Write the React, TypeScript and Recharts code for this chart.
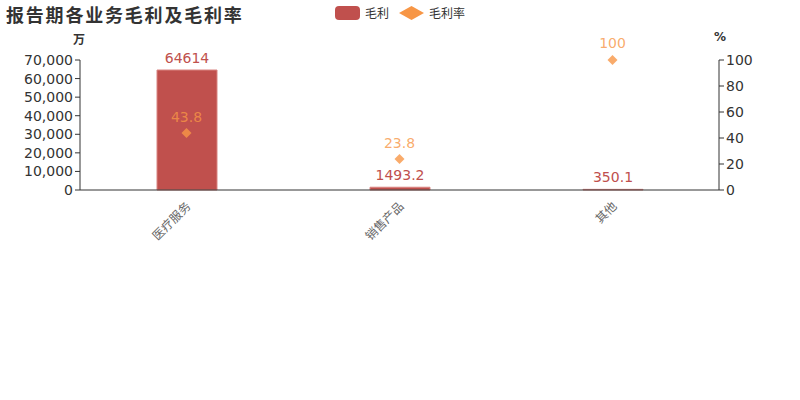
import React from 'react';
import { ComposedChart, Bar, Scatter, XAxis, YAxis, LabelList } from 'recharts';

const categories = ['医疗服务', '销售产品', '其他'];
const grossProfit = [64614, 1493.2, 350.1];
const grossMargin = [43.8, 23.8, 100];
const leftTicks = [0, 10000, 20000, 30000, 40000, 50000, 60000, 70000];
const rightTicks = [0, 20, 40, 60, 80, 100];

const data = categories.map((name, i) => ({
  name,
  profit: grossProfit[i],
  rate: grossMargin[i],
}));

const FONT = '"DejaVu Sans", "Noto Sans CJK SC", sans-serif';
const CJK = '"Noto Sans CJK SC", sans-serif';
const RED = '#c0504d';
const ORANGE = '#f79646';

const Diamond = (props: any) => {
  const { cx, cy } = props;
  if (cx == null || cy == null) return null;
  const r = 5;
  return (
    <polygon
      points={`${cx},${cy - r} ${cx + r},${cy} ${cx},${cy + r} ${cx - r},${cy}`}
      fill={ORANGE}
      fillOpacity={0.8}
    />
  );
};

const CategoryTick = (props: any) => {
  const { x, y, payload } = props;
  return (
    <text
      x={x + 5}
      y={y + 9}
      transform={`rotate(-45 ${x + 5} ${y + 9})`}
      textAnchor="end"
      fill="#666"
      fontSize={12}
      fontFamily={CJK}
    >
      {payload.value}
    </text>
  );
};

const ChartLegend = () => (
  <div style={{ position: 'absolute', left: 335, top: 4, display: 'flex', alignItems: 'center', fontFamily: CJK, fontSize: 12, color: '#333' }}>
    <span style={{ display: 'inline-block', width: 25, height: 14, borderRadius: 4, background: RED, marginRight: 5 }} />
    <span style={{ marginRight: 10 }}>毛利</span>
    <svg width={25} height={14} style={{ marginRight: 5 }}>
      <polygon points="12.5,0 25,7 12.5,14 0,7" fill={ORANGE} />
    </svg>
    <span>毛利率</span>
  </div>
);

export default function App() {
  return (
    <div style={{ position: 'absolute', left: 0, top: 0, width: 800, height: 400, background: '#fff' }}>
      <div
        style={{
          position: 'absolute',
          left: 6,
          top: 1,
          fontFamily: CJK,
          fontWeight: 'bold',
          fontSize: 18,
          letterSpacing: 1.8,
          color: '#333',
        }}
      >
        报告期各业务毛利及毛利率
      </div>
      <ChartLegend />
      <div style={{ position: 'absolute', left: 73, top: 30, fontFamily: CJK, fontSize: 12, fontWeight: 'bold', color: '#333' }}>万</div>
      <div style={{ position: 'absolute', left: 714, top: 30, fontFamily: FONT, fontSize: 12, fontWeight: 'bold', color: '#333' }}>%</div>
      <ComposedChart
        width={800}
        height={400}
        data={data}
        margin={{ top: 60, right: 0, bottom: 150, left: 0 }}
        barCategoryGap={0}
      >
        <XAxis
          dataKey="name"
          height={60}
          tick={<CategoryTick />}
          tickLine={false}
          axisLine={{ stroke: '#333' }}
          interval={0}
        />
        <YAxis
          yAxisId="left"
          width={80}
          domain={[0, 70000]}
          ticks={leftTicks}
          interval={0}
          tickFormatter={(v: number) => v.toLocaleString('en-US')}
          tick={{ fill: '#333', fontSize: 14, fontFamily: FONT }}
          axisLine={{ stroke: '#333' }}
          tickLine={{ stroke: '#333' }}
          tickSize={5}
        />
        <YAxis
          yAxisId="right"
          orientation="right"
          width={81}
          domain={[0, 100]}
          ticks={rightTicks}
          interval={0}
          tick={{ fill: '#333', fontSize: 14, fontFamily: FONT }}
          axisLine={{ stroke: '#333' }}
          tickLine={{ stroke: '#333' }}
          tickSize={5}
        />
        <Bar yAxisId="left" dataKey="profit" fill={RED} stroke="#d98582" strokeWidth={1} barSize={60} isAnimationActive={false}>
          <LabelList dataKey="profit" position="top" offset={7} fill={RED} fontSize={14} fontFamily={FONT} />
        </Bar>
        <Scatter yAxisId="right" dataKey="rate" shape={<Diamond />} isAnimationActive={false}>
          <LabelList dataKey="rate" position="top" offset={7} fill={ORANGE} fillOpacity={0.8} fontSize={14} fontFamily={FONT} />
        </Scatter>
      </ComposedChart>
    </div>
  );
}
